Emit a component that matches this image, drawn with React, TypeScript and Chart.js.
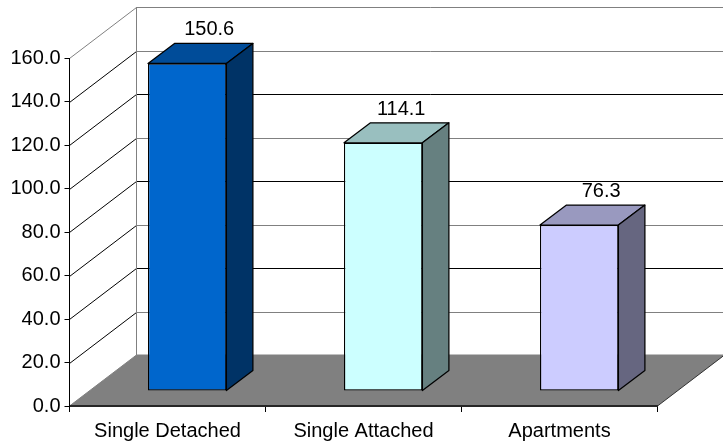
import React, { useEffect, useRef } from "react";
import { Chart, registerables } from "chart.js";

Chart.register(...registerables);

const categories = ["Single Detached", "Single Attached", "Apartments"];
const homeValues = [150.6, 114.1, 76.3];

const frontColors = ["#0066CC", "#CCFFFF", "#CCCCFF"];
const topColors = ["#004C99", "#99BFBF", "#9999BF"];
const sideColors = ["#003366", "#668080", "#666680"];

// Back-wall gridline colours, listed from 0 up to 160.
const wallLineColors = ["#808080", "#808080", "#000000", "#808080", "#000000", "#808080", "#000000", "#808080", "#808080"];

// Horizontal nudge of each value label away from its column's back edge.
const labelNudges = [22, 18, 22];

const FONT = { family: "'Liberation Sans', Arial, sans-serif", size: 20 };

// Oblique projection of the plot box and of the columns inside it.
const WALL_DX = 67;
const WALL_DY = 51;
const COLUMN_FRONT_DX = 19.7;
const COLUMN_FRONT_DY = 15;
const COLUMN_DX = 26.5;
const COLUMN_DY = 20;

const wallsPlugin = {
  id: "walls",
  beforeDraw(chart: any) {
    const { ctx, chartArea, scales } = chart;
    const { left, right, bottom, top } = chartArea;
    ctx.save();
    ctx.lineWidth = 1;

    // Floor
    ctx.fillStyle = "#808080";
    ctx.beginPath();
    ctx.moveTo(left, bottom);
    ctx.lineTo(left + WALL_DX, bottom - WALL_DY);
    ctx.lineTo(right + WALL_DX, bottom - WALL_DY);
    ctx.lineTo(right, bottom);
    ctx.closePath();
    ctx.fill();

    // Gridlines run up the side wall and across the back wall
    scales.y.ticks.forEach((tick: any, i: number) => {
      const y = Math.round(scales.y.getPixelForValue(tick.value)) + 0.5;
      if (i > 0) {
        ctx.strokeStyle = i === scales.y.ticks.length - 1 ? "#808080" : "#000000";
        ctx.beginPath();
        ctx.moveTo(left, y);
        ctx.lineTo(left + WALL_DX, y - WALL_DY);
        ctx.stroke();
        ctx.strokeStyle = wallLineColors[i];
        ctx.beginPath();
        ctx.moveTo(left + WALL_DX, y - WALL_DY);
        ctx.lineTo(right + WALL_DX, y - WALL_DY);
        ctx.stroke();
      }
    });

    // Edges of the walls and floor
    ctx.strokeStyle = "#808080";
    ctx.beginPath();
    ctx.moveTo(left, bottom);
    ctx.lineTo(left + WALL_DX, bottom - WALL_DY);
    ctx.lineTo(left + WALL_DX, top - WALL_DY);
    ctx.moveTo(left + WALL_DX, bottom - WALL_DY);
    ctx.lineTo(right + WALL_DX, bottom - WALL_DY);
    ctx.stroke();
    ctx.strokeStyle = "#333333";
    ctx.beginPath();
    ctx.moveTo(right, bottom);
    ctx.lineTo(right + WALL_DX, bottom - WALL_DY);
    ctx.stroke();
    ctx.restore();
  },
};

const columnsPlugin = {
  id: "columns",
  // The library's bar is the column's front face, pushed back into the box.
  beforeDatasetDraw(chart: any, args: any) {
    const { ctx } = chart;
    ctx.save();
    ctx.translate(COLUMN_FRONT_DX, -COLUMN_FRONT_DY);
    ctx.lineWidth = 1.25;
    ctx.lineJoin = "round";
    ctx.strokeStyle = "#000000";
    args.meta.data.forEach((bar: any, i: number) => {
      const { x, y, base, width } = bar.getProps(["x", "y", "base", "width"], true);
      const l = x - width / 2;
      const r = x + width / 2;
      ctx.fillStyle = topColors[i];
      ctx.beginPath();
      ctx.moveTo(l, y);
      ctx.lineTo(l + COLUMN_DX, y - COLUMN_DY);
      ctx.lineTo(r + COLUMN_DX, y - COLUMN_DY);
      ctx.lineTo(r, y);
      ctx.closePath();
      ctx.fill();
      ctx.stroke();
      ctx.fillStyle = sideColors[i];
      ctx.beginPath();
      ctx.moveTo(r, y);
      ctx.lineTo(r + COLUMN_DX, y - COLUMN_DY);
      ctx.lineTo(r + COLUMN_DX, base - COLUMN_DY);
      ctx.lineTo(r, base);
      ctx.closePath();
      ctx.fill();
      ctx.stroke();
    });
  },
  afterDatasetDraw(chart: any) {
    chart.ctx.restore();
  },
  afterDatasetsDraw(chart: any) {
    const { ctx } = chart;
    const meta = chart.getDatasetMeta(0);
    ctx.save();
    ctx.font = `${FONT.size}px ${FONT.family}`;
    ctx.fillStyle = "#000000";
    ctx.textAlign = "center";
    ctx.textBaseline = "middle";
    meta.data.forEach((bar: any, i: number) => {
      const { x, y } = bar.getProps(["x", "y"], true);
      ctx.fillText(homeValues[i].toFixed(1), x + COLUMN_FRONT_DX + labelNudges[i], y - COLUMN_FRONT_DY - COLUMN_DY - 13.5);
    });
    ctx.restore();
  },
};

export default function App() {
  const canvasRef = useRef<HTMLCanvasElement>(null);

  useEffect(() => {
    const chart = new Chart(canvasRef.current as HTMLCanvasElement, {
      type: "bar",
      data: {
        labels: categories,
        datasets: [
          {
            data: homeValues,
            backgroundColor: frontColors,
            borderColor: "#000000",
            borderWidth: 1.25,
            borderSkipped: false,
            barPercentage: 0.4,
            categoryPercentage: 1,
            clip: false,
          },
        ],
      },
      options: {
        animation: false,
        responsive: false,
        layout: { padding: { top: 58, right: 65.5, left: 0, bottom: 0 } },
        plugins: { legend: { display: false }, tooltip: { enabled: false }, title: { display: false } },
        scales: {
          x: {
            afterFit: (scale: any) => {
              scale.height = 37;
            },
            border: { color: "#262626", width: 2 },
            grid: { drawOnChartArea: false, color: "#000000", tickLength: 6, offset: true },
            ticks: { font: FONT, color: "#000000", padding: 7, maxRotation: 0 },
          },
          y: {
            min: 0,
            max: 160,
            afterFit: (scale: any) => {
              scale.width = 69.5;
            },
            border: { color: "#000000", width: 1 },
            grid: { drawOnChartArea: false, color: "#000000", tickLength: 5 },
            ticks: {
              stepSize: 20,
              font: FONT,
              color: "#000000",
              padding: 4,
              callback: (v: any) => Number(v).toFixed(1),
            },
          },
        },
      },
      plugins: [wallsPlugin, columnsPlugin],
    } as any);
    return () => chart.destroy();
  }, []);

  return (
    <div style={{ position: "absolute", left: 0, top: 0, width: 723, height: 443, background: "#ffffff" }}>
      <canvas ref={canvasRef} width={723} height={443} style={{ display: "block" }} />
    </div>
  );
}
